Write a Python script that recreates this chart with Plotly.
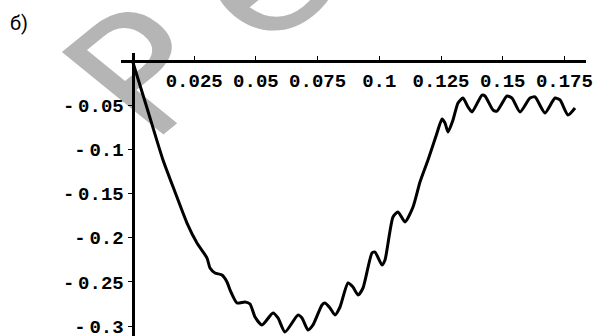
import base64
import plotly.graph_objects as go

# curve samples
x_vals = [0, 0.00612, 0.01236, 0.01722, 0.02208, 0.02613, 0.03019, 0.03140, 0.03343, 0.03626,
          0.03829, 0.03951, 0.04234, 0.04558, 0.04761, 0.04964, 0.05247, 0.05693, 0.05896, 0.06179,
          0.06706, 0.06868, 0.07111, 0.07314, 0.07678, 0.07800, 0.08002, 0.08205, 0.08408, 0.08732,
          0.08934, 0.09137, 0.09340, 0.09704, 0.09826, 0.10109, 0.10231, 0.10555, 0.10758, 0.11041,
          0.11366, 0.11649, 0.11973, 0.12338, 0.12541, 0.12662, 0.12784, 0.12986, 0.13189, 0.13391,
          0.13594, 0.13756, 0.14161, 0.14283, 0.14607, 0.14769, 0.15174, 0.15377, 0.15701, 0.16106,
          0.16309, 0.16714, 0.17119, 0.17322, 0.17646, 0.17929]
y_vals = [0, -0.0554, -0.1120, -0.1482, -0.1833, -0.2059, -0.2229, -0.2342, -0.2398, -0.2421,
          -0.2500, -0.2590, -0.2738, -0.2726, -0.2749, -0.2896, -0.2986, -0.2851, -0.2907, -0.3066,
          -0.2873, -0.2907, -0.3043, -0.2986, -0.2760, -0.2738, -0.2794, -0.2873, -0.2783, -0.2511,
          -0.2557, -0.2647, -0.2568, -0.2172, -0.2161, -0.2308, -0.2251, -0.1765, -0.1708, -0.1821,
          -0.1652, -0.1369, -0.1120, -0.0814, -0.0656, -0.0701, -0.0803, -0.0667, -0.0475, -0.0419,
          -0.0520, -0.0577, -0.0385, -0.0396, -0.0554, -0.0566, -0.0396, -0.0419, -0.0577, -0.0419,
          -0.0407, -0.0588, -0.0419, -0.0441, -0.0611, -0.0532]

x_ticks = [0.025, 0.05, 0.075, 0.1, 0.125, 0.15, 0.175]
x_tick_labels = ["0.025", "0.05", "0.075", "0.1", "0.125", "0.15", "0.175"]
y_ticks = [-0.05, -0.1, -0.15, -0.2, -0.25, -0.3]
y_tick_labels = ["-\u20090.05", "-\u20090.1", "-\u20090.15", "-\u20090.2", "-\u20090.25", "-\u20090.3"]

x_range = [-0.00466, 0.18375]
y_range = [-0.3111, 0.00905]

W, H = 604, 336
ML, MR, MT, MB = 121, 18, 53, 0
PW, PH = W - ML - MR, H - MT - MB

tick_font = dict(family="Liberation Mono", size=19, color="black", weight="bold")

fig = go.Figure()
fig.add_trace(go.Scatter(x=x_vals, y=y_vals, mode="lines",
                         line=dict(color="black", width=3, shape="spline", smoothing=0.6),
                         hoverinfo="skip", showlegend=False))

# light-grey diagonal watermark behind the plot
svg = ('<svg xmlns="http://www.w3.org/2000/svg" width="604" height="336" viewBox="0 0 604 336">'
       '<text transform="translate(149.7,145.5) scale(1.23,1) rotate(-45)" '
       'font-family="DejaVu Sans" font-size="160" fill="#b5b5b5">Р<tspan dx="35">е</tspan></text>'
       '</svg>')
uri = "data:image/svg+xml;base64," + base64.b64encode(svg.encode("utf-8")).decode()
fig.add_layout_image(dict(source=uri, xref="paper", yref="paper",
                          x=-ML / PW, y=H / PH, sizex=W / PW, sizey=H / PH,
                          xanchor="left", yanchor="top", sizing="stretch", layer="below"))

fig.add_annotation(text="б)", xref="paper", yref="paper", x=(8 - ML) / PW, y=(H - 23) / PH,
                   xanchor="left", yanchor="middle", showarrow=False,
                   font=dict(family="Roboto", size=20, color="black"))

fig.update_layout(
    width=W, height=H, margin=dict(l=ML, r=MR, t=MT, b=MB, autoexpand=False),
    paper_bgcolor="white", plot_bgcolor="rgba(0,0,0,0)",
    xaxis=dict(range=x_range, anchor="free",
               position=(0 - y_range[0]) / (y_range[1] - y_range[0]),
               showline=True, linewidth=3, linecolor="black", zeroline=False, showgrid=False,
               ticks="inside", ticklen=4, tickwidth=1, tickcolor="black",
               ticklabelstandoff=1, ticklabeloverflow="allow",
               tickvals=x_ticks, ticktext=x_tick_labels, tickfont=tick_font),
    yaxis=dict(range=y_range, anchor="free",
               position=(0 - x_range[0]) / (x_range[1] - x_range[0]),
               showline=True, linewidth=3, linecolor="black", zeroline=False, showgrid=False,
               ticks="outside", ticklen=4, tickwidth=1, tickcolor="black",
               ticklabeloverflow="allow",
               tickvals=y_ticks, ticktext=y_tick_labels, tickfont=tick_font),
)

fig.write_html("out.html")
